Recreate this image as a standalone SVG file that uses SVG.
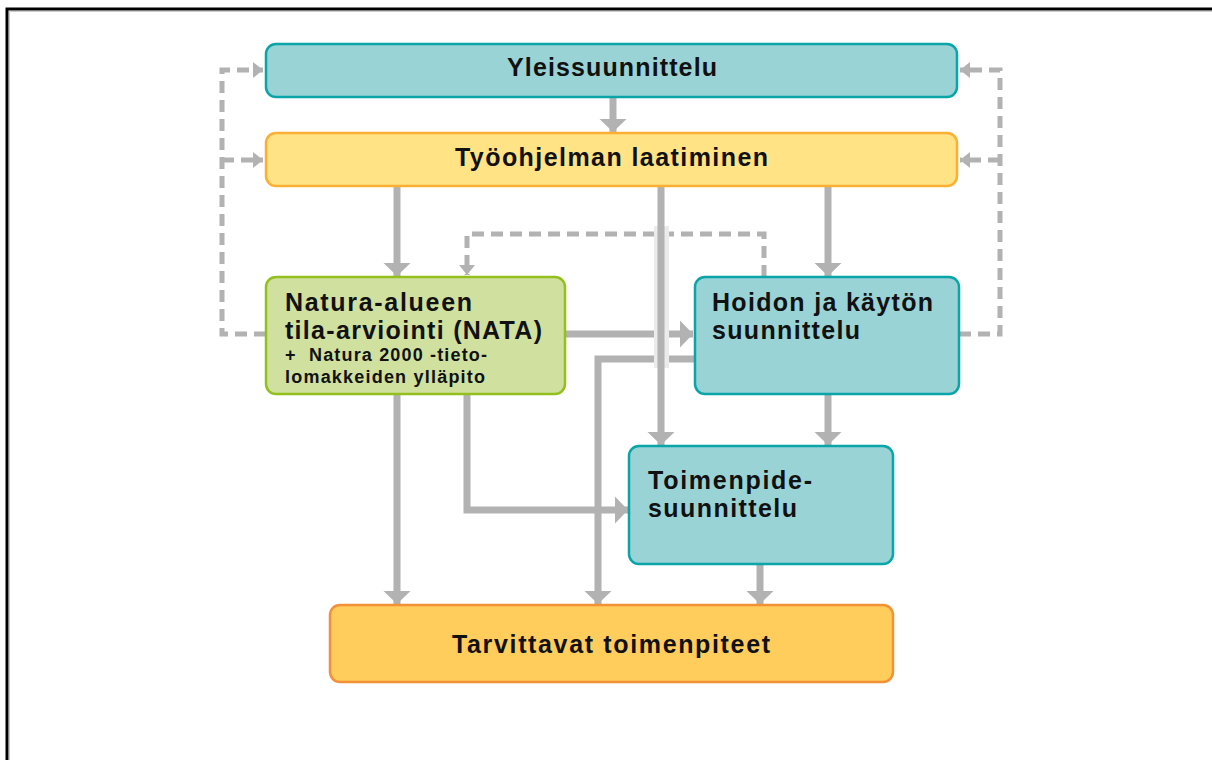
<svg xmlns="http://www.w3.org/2000/svg" width="1212" height="760" viewBox="0 0 1212 760">
<defs>
<style>
.box{stroke-width:2.5}
.teal{fill:#9AD3D6;stroke:#09A5A9}
.yel{fill:#FFE384;stroke:#FBB034}
.grn{fill:#D0E09E;stroke:#93C01F}
.org{fill:#FECD5C;stroke:#F29135}
.t{font-family:"Liberation Sans",Arial,sans-serif;font-weight:700;fill:#111}
.big{font-size:25px}
.mid{font-size:25px}
.sm{font-size:18px}
.sol{fill:none;stroke:#B2B2B2;stroke-width:7}
.dsh{fill:none;stroke:#B2B2B2;stroke-width:5;stroke-dasharray:12 7}
</style>
<marker id="ah" markerUnits="userSpaceOnUse" markerWidth="14" markerHeight="28" refX="13" refY="14" orient="auto">
<path d="M0,0.5 L13,14 L0,27.5 z" fill="#B2B2B2"/>
</marker>
<marker id="ahs" markerUnits="userSpaceOnUse" markerWidth="11" markerHeight="18" refX="10" refY="9" orient="auto">
<path d="M0,1 L10,9 L0,17 z" fill="#B2B2B2"/>
</marker>
</defs>
<rect width="1212" height="760" fill="#fff"/>
<path d="M7,760 V9 H1212" fill="none" stroke="#000" stroke-width="3"/>
<path d="M9.5,760 V11.5 H1212" fill="none" stroke="#ccc" stroke-width="1"/>

<g id="connectors">
<path class="dsh" d="M266,334 H222 V70 H263" marker-end="url(#ahs)"/>
<path class="dsh" d="M222,160 H263" marker-end="url(#ahs)"/>
<path class="dsh" d="M959,334 H1000 V70 H960" marker-end="url(#ahs)"/>
<path class="dsh" d="M1000,160 H960" marker-end="url(#ahs)"/>
<path class="dsh" d="M764,277 V234 H467 V275" marker-end="url(#ahs)"/>
<path class="sol" d="M613,97 V132" marker-end="url(#ah)"/>
<path class="sol" d="M397,187 V276" marker-end="url(#ah)"/>
<path class="sol" d="M828,187 V276" marker-end="url(#ah)"/>
<path class="sol" d="M565,334 H693" marker-end="url(#ah)"/>
<path class="sol" d="M695,359 H598 V604" marker-end="url(#ah)"/>
<rect x="654" y="226" width="15" height="142" fill="#EBEBEB"/>
<path class="sol" d="M661,187 V445" marker-end="url(#ah)"/>
<path class="sol" d="M828,395 V445" marker-end="url(#ah)"/>
<path class="sol" d="M397,395 V604" marker-end="url(#ah)"/>
<path class="sol" d="M467,395 V510 H628" marker-end="url(#ah)"/>
<path class="sol" d="M760,565 V604" marker-end="url(#ah)"/>
</g>

<g id="yleissuunnittelu">
<rect class="box teal" x="266" y="44" width="691" height="53" rx="10"/>
<text class="t big" x="507" y="76" textLength="210" lengthAdjust="spacing">Yleissuunnittelu</text>
</g>
<g id="tyoohjelma">
<rect class="box yel" x="266" y="133" width="691" height="53" rx="10"/>
<text class="t big" x="455" y="166" textLength="313" lengthAdjust="spacing">Työohjelman laatiminen</text>
</g>
<g id="nata">
<rect class="box grn" x="266" y="277" width="299" height="117" rx="10"/>
<text class="t mid" x="285" y="311" textLength="187" lengthAdjust="spacing">Natura-alueen</text>
<text class="t mid" x="285" y="339" textLength="257" lengthAdjust="spacing">tila-arviointi (NATA)</text>
<text class="t sm" x="285" y="361" textLength="202" lengthAdjust="spacing">+&#160; Natura 2000 -tieto-</text>
<text class="t sm" x="285" y="383" textLength="200" lengthAdjust="spacing">lomakkeiden ylläpito</text>
</g>
<g id="hoidon">
<rect class="box teal" x="695" y="277" width="264" height="117" rx="10"/>
<text class="t mid" x="712" y="311" textLength="221" lengthAdjust="spacing">Hoidon ja käytön</text>
<text class="t mid" x="712" y="339" textLength="148" lengthAdjust="spacing">suunnittelu</text>
</g>
<g id="toimenpide">
<rect class="box teal" x="629" y="446" width="264" height="118" rx="10"/>
<text class="t mid" x="648" y="489" textLength="164" lengthAdjust="spacing">Toimenpide-</text>
<text class="t mid" x="648" y="517" textLength="149" lengthAdjust="spacing">suunnittelu</text>
</g>
<g id="tarvittavat">
<rect class="box org" x="330" y="605" width="563" height="77" rx="10"/>
<text class="t big" x="452" y="653" textLength="318" lengthAdjust="spacing">Tarvittavat toimenpiteet</text>
</g>
</svg>
